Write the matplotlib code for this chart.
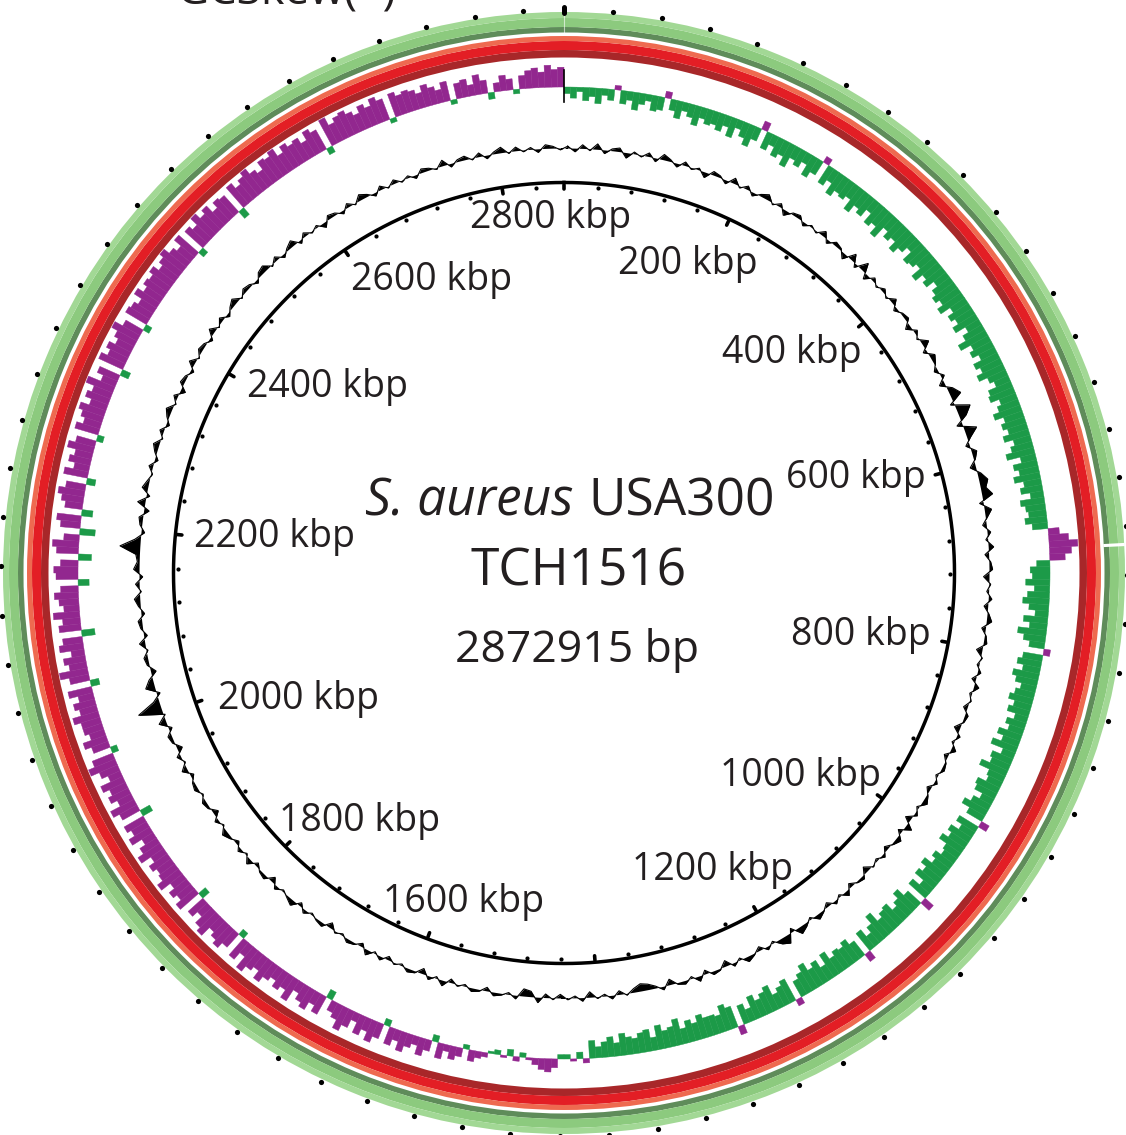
import numpy as np
import matplotlib
matplotlib.use("Agg")
import matplotlib.pyplot as plt

# ---------------------------------------------------------------- data
GENOME_LENGTH = 2872915
TITLE_SPECIES = "S. aureus"
TITLE_STRAIN = "USA300"
TITLE_ISOLATE = "TCH1516"
TITLE_LENGTH = "2872915 bp"
LEGEND_TEXT = "GCSkew(+)"

TICK_LABELS_KBP = [200, 400, 600, 800, 1000, 1200, 1600, 1800, 2000,
                   2200, 2400, 2600, 2800]
TICK_STEP_BP = 40000
MAJOR_TICK_BP = 200000

# GC skew x100 in 480 windows (~6 kbp); positive drawn outward
GC_SKEW = [
    -3, -5, -2, -6, -4, -7, -3, -5, 2, -6, -4, -8, -5, -3, -7, -6, 3, -5, -8, -4, -6, -9, -5, -7,
    -6, -8, -5, -9, -4, -7, -10, -6, 4, -8, -5, -9, -7, -11, -6, -8, -5, -10, -7, 3, -9, -6, -11, -8,
    -9, -7, -12, -8, -10, -6, -11, -9, -13, -7, -10, -8, -12, -9, -6, -11, -10, -8, -13, -9, -11, -7, -10, -12,
    -10, -13, -8, -11, -9, -12, -7, -10, -14, -9, -11, -8, -12, -10, -13, -9, -7, -11, -12, -8, -10, -13, -9, -11,
    -9, -12, -8, -10, -13, -7, -11, -9, -12, -8, -10, -6, -11, -9, -8, -10, -7, 5, 9, 13, 10, 7, -6, -9,
    -8, -11, -7, -10, -12, -9, -6, -11, -8, -13, -10, -7, 3, -9, -11, -8, -12, -10, -7, -9, -11, -8, -10, -6,
    -9, -7, -11, -8, -12, -6, -10, -9, -13, -8, -7, -11, -10, -6, -9, -12, -8, 4, -10, -7, -11, -9, -12, -8,
    -7, -10, -8, -12, -9, -11, -6, -10, 5, -8, -12, -9, -7, -11, -10, -8, -13, -9, -6, -10, 4, -8, -11, -9,
    -10, -8, -12, -7, -11, -9, -13, -10, -8, 3, -11, -9, -7, -12, -10, -8, -11, -6, -9, 4, -10, -12, -8, -9,
    -9, -11, -8, -10, -7, -12, -9, -8, -11, -6, -10, -9, -7, -8, -10, -6, -9, -7, -5, -8, 2, -3, 1, -2,
    -2, 4, 6, 5, 3, 1, -2, 2, -3, 1, -2, -1, 2, 3, 5, -2, 4, 6, 3, 7, -3, 5, 8, 4,
    6, 9, 5, 8, -3, 7, 10, 6, 9, 4, 8, 11, 7, 5, -4, 9, 6, 10, 8, 5, 11, 7, 9, 6,
    8, 11, 7, 9, 12, 6, 10, -3, 8, 11, 9, 7, 12, 10, 6, 9, -4, 11, 8, 10, 7, 12, 9, 8,
    10, 7, 12, 9, 6, 11, 8, 10, -5, 9, 12, 7, 10, 8, 11, 6, 9, 13, 10, -3, 8, 11, 7, 9,
    9, 12, 8, 10, 7, 11, -4, 9, 13, 8, 10, 6, 11, 9, -6, 10, 8, 12, 7, 9, 11, 8, -5, 10,
    11, 8, -6, 10, 12, 7, -7, 9, 11, -5, 8, 10, 12, 9, -4, 11, 7, 10, 8, 12, 9, -3, 11, 8,
    10, 12, 8, 11, 9, 13, 7, 10, -4, 12, 9, 11, 8, 10, 13, 9, -3, 11, 10, 8, 12, 9, 11, 10,
    12, 9, 11, 13, 10, 8, 12, -3, 11, 9, 13, 10, 12, 8, 11, 10, -4, 12, 9, 11, 13, 10, 8, 12,
    11, 13, 9, 12, 10, 11, 8, 12, 10, -3, 13, 9, 11, 12, 10, 8, 11, 9, 12, 10, -2, 11, 9, 10,
    9, 7, 10, 8, 6, 9, -2, 7, 8, 5, 9, 6, -3, 4, 7, 5, -2, 6, 8, 9, 7, 10, 8, 9,
]

# GC content deviation from the mean (x100) in 360 windows (~8 kbp)
GC_CONTENT = [
    1, -2, 2, -1, 3, -2, 1, 2, -3, 1, -1, 2, -2, 3, 1, -2, 2, -1, 1, -3, 2, 1, -2, 3,
    -1, 2, -2, 1, 3, -1, 2, -3, 1, 2, -2, 1, -1, 3, -2, 2, 1, -3, 4, -2, 5, -3, 2, -1,
    2, -1, 3, -2, 1, 2, -3, 2, -1, 4, -2, 3, 1, -2, 2, -3, 3, 6, -2, 8, 4, -3, 7, 2,
    -2, 3, 1, -3, 2, 5, 3, 6, -2, 4, 1, -2, 2, -1, 3, -2, 1, 2, -3, 1, -1, 2, -2, 1,
    3, -2, 1, 2, -3, 1, -1, 2, -2, 3, -1, 1, -2, 2, 1, -3, 2, -1, 3, -2, 1, 2, -1, 2,
    -2, 1, 3, -1, 2, -3, 4, -2, 3, 1, -2, 2, -1, 1, -3, 2, 1, -2, 3, -1, 2, -2, 1, 3,
    -1, 2, 4, -2, 5, 3, -1, 2, -2, 1, 3, -1, 2, -3, 1, 2, -2, 3, -1, 2, 1, -3, 2, -1,
    -3, -4, -2, 1, -2, 2, -1, 1, -3, 2, -1, 1, -2, 1, -2, 3, -3, -4, 2, -1, 1, 2, -2, 1,
    2, -1, 1, -2, 3, -1, 2, -3, 1, 2, -1, 1, -2, 2, -1, 3, -2, 1, 2, -1, 1, -3, 2, 1,
    -1, 2, -2, 3, 1, -1, 2, -3, 2, 1, -2, 3, -1, 2, -2, 1, 3, -1, 2, -3, 1, 2, -1, 2,
    1, -2, 3, -1, 2, -3, 1, 2, -2, 4, -1, 13, 3, -2, 5, 2, -3, 1, 2, -1, 3, -2, 1, 2,
    -2, 1, 3, -1, 2, -2, 3, 1, 2, 11, 3, -2, 1, 2, -3, 4, -2, 3, 1, -1, 2, -2, 1, 3,
    -1, 2, -2, 1, 3, -1, 2, -3, 2, 1, -2, 3, -1, 2, 1, -2, 3, -1, 2, -2, 1, 3, -1, 2,
    1, -2, 2, 3, -1, 2, -2, 1, 3, -2, 2, -1, 1, -3, 2, 1, -2, 2, -1, 3, 1, -2, 2, -1,
    2, -1, 1, -2, 2, 1, -1, 3, -2, 1, 2, -1, 2, -2, 1, 3, -1, 2, -1, 1, -2, 2, 1, -1,
]

# region missing from the outer comparison genome (kbp)
OUTER_RING_GAPS_KBP = [695]

# ---------------------------------------------------------------- style
FONT = "Open Sans"
TEXT_COLOR = "#231f20"
PURPLE = "#92278f"
GREEN = "#1c9a48"

# concentric BLAST rings: (inner radius, outer radius, colour)
OUTER_RING_LAYERS = [(540.5, 546.0, "#5f8c5a"),
                     (546.0, 555.0, "#8cca7e"),
                     (555.0, 561.0, "#a2d895")]
INNER_RING_LAYERS = [(515.5, 523.0, "#a82729"),
                     (523.0, 532.0, "#e31e25"),
                     (532.0, 537.0, "#ee6a50")]

SKEW_R, SKEW_PX = 486.0, 2.2
GC_R, GC_PX = 425.0, 1.8
AXIS_R = 390.5
INNER_DOT_R = 386.5
OUTER_DOT_R = 563.5

# label centres in (degrees clockwise from top, radius)
LABEL_LAYOUT = {200: (21.6, 336.7), 400: (45.4, 320.3), 600: (71.2, 308.6),
                800: (100.9, 302.4), 1000: (130.0, 308.1), 1200: (153.0, 328.2),
                1600: (197.1, 340.0), 1800: (220.0, 318.4), 2000: (245.5, 292.2),
                2200: (277.9, 292.7), 2400: (308.9, 304.0), 2600: (335.9, 325.4),
                2800: (357.8, 360.0)}

# ---------------------------------------------------------------- figure
W_PX, H_PX = 1126.0, 1135.0
CX_PX, CY_PX = 564.0, 573.0
R_VIEW = 570.0

fig = plt.figure(figsize=(W_PX / 100, H_PX / 100), dpi=100, facecolor="white")
ax = fig.add_axes([(CX_PX - R_VIEW) / W_PX, (H_PX - CY_PX - R_VIEW) / H_PX,
                   2 * R_VIEW / W_PX, 2 * R_VIEW / H_PX], projection="polar")
ax.set_theta_zero_location("N")
ax.set_theta_direction(-1)
ax.set_ylim(0, R_VIEW)
ax.axis("off")


def bp_to_theta(bp):
    return 2 * np.pi * np.asarray(bp, dtype=float) / GENOME_LENGTH


def wrapped(values):
    """Window centres and values, closed round the circle."""
    v = np.asarray(values, dtype=float)
    n = len(v)
    th = (np.arange(n + 1) + 0.5) * 2 * np.pi / n
    return th, np.append(v, v[0])


# BLAST rings
for r0, r1, col in OUTER_RING_LAYERS + INNER_RING_LAYERS:
    ax.bar(0, r1 - r0, width=2 * np.pi, bottom=r0, color=col, linewidth=0)
ring_lo = OUTER_RING_LAYERS[0][0]
ring_hi = OUTER_RING_LAYERS[-1][1]
for gap in OUTER_RING_GAPS_KBP:
    ax.bar(bp_to_theta(gap * 1000), ring_hi - ring_lo + 1, width=bp_to_theta(2600),
           bottom=ring_lo - 0.5, color="white", linewidth=0)
ax.plot([0, 0], [ring_lo, ring_hi], color="white", lw=0.8, alpha=0.6)

# GC skew: one bar per window, positive outward in purple, negative inward
skew = np.asarray(GC_SKEW, dtype=float)
n_skew = len(skew)
th_skew = (np.arange(n_skew) + 0.5) * 2 * np.pi / n_skew
skew_cols = np.where(skew > 0, PURPLE, GREEN)
ax.bar(th_skew, skew * SKEW_PX, width=2 * np.pi / n_skew, bottom=SKEW_R,
       color=skew_cols, edgecolor=skew_cols, linewidth=0.3)
ax.plot([0, 0], [SKEW_R - 15, SKEW_R + 17], color="black", lw=1.2)

# GC content
th_g, gcv = wrapped(GC_CONTENT)
ax.fill_between(th_g, GC_R, GC_R + gcv * GC_PX, color="black", linewidth=0)
ax.plot(th_g, GC_R + gcv * GC_PX, color="black", lw=0.8)

# backbone circle and ticks
circ = np.linspace(0, 2 * np.pi, 1441)
ax.plot(circ, np.full_like(circ, AXIS_R), color="black", lw=2.5)

tick_bp = np.arange(0, GENOME_LENGTH, TICK_STEP_BP)
is_major = tick_bp % MAJOR_TICK_BP == 0
ax.scatter(bp_to_theta(tick_bp[~is_major]),
           np.full((~is_major).sum(), INNER_DOT_R), s=9, color="black",
           linewidths=0)
for t in bp_to_theta(tick_bp[is_major]):
    ax.plot([t, t], [INNER_DOT_R - 2.5, INNER_DOT_R + 2.0], color="black",
            lw=2.6, solid_capstyle="round")
ax.scatter(bp_to_theta(tick_bp[tick_bp > 0]),
           np.full((tick_bp > 0).sum(), OUTER_DOT_R), s=14, color="black",
           linewidths=0)
ax.plot([0, 0], [OUTER_DOT_R - 3, OUTER_DOT_R + 3], color="black", lw=3.6,
        solid_capstyle="round")

# position labels
for kbp in TICK_LABELS_KBP:
    deg, rad = LABEL_LAYOUT[kbp]
    ax.text(np.deg2rad(deg), rad, f"{kbp} kbp", fontsize=27, family=FONT,
            color=TEXT_COLOR, ha="center", va="center_baseline")


# centre titles
def fig_xy(x_px, y_px):
    return x_px / W_PX, 1 - y_px / H_PX


fig.text(*fig_xy(573, 515), TITLE_SPECIES, fontsize=37, family=FONT,
         style="italic", color=TEXT_COLOR, ha="right", va="baseline")
fig.text(*fig_xy(588, 515), TITLE_STRAIN, fontsize=37, family=FONT,
         color=TEXT_COLOR, ha="left", va="baseline")
fig.text(*fig_xy(579, 586), TITLE_ISOLATE, fontsize=37, family=FONT,
         color=TEXT_COLOR, ha="center", va="baseline")
fig.text(*fig_xy(577.5, 662), TITLE_LENGTH, fontsize=32, family=FONT,
         color=TEXT_COLOR, ha="center", va="baseline")
fig.text(*fig_xy(176, 5), LEGEND_TEXT, fontsize=32, family=FONT,
         color=TEXT_COLOR, ha="left", va="baseline")

fig.savefig("out.png", dpi=100, facecolor="white")
